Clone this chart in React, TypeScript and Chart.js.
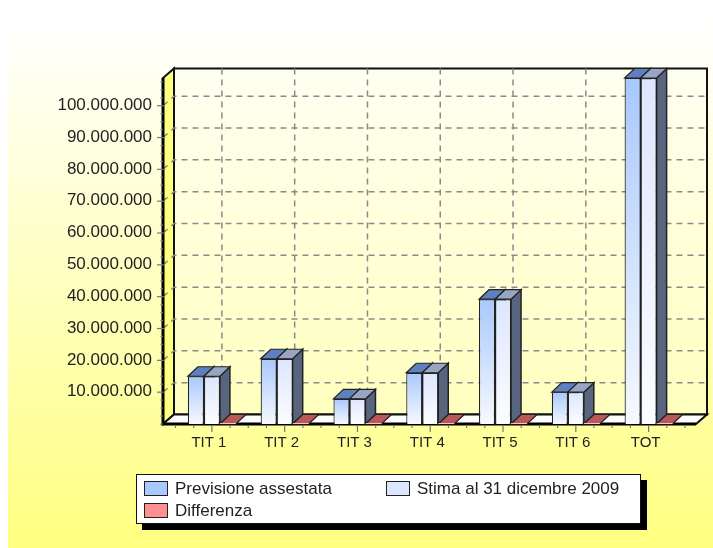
import React, { useEffect, useRef } from "react";
import { Chart, registerables } from "chart.js";

Chart.register(...registerables);

const categories = ["TIT 1", "TIT 2", "TIT 3", "TIT 4", "TIT 5", "TIT 6", "TOT"];
const previsione = [15000000, 20500000, 7900000, 16100000, 39200000, 10000000, 108700000];
const stima = [15000000, 20500000, 7900000, 16100000, 39200000, 10000000, 108700000];
const differenza = [0, 0, 0, 0, 0, 0, 0];
const seriesNames = ["Previsione assestata", "Stima al 31 dicembre 2009", "Differenza"];
const yTickValues = [10000000, 20000000, 30000000, 40000000, 50000000, 60000000, 70000000, 80000000, 90000000, 100000000];
const yTickLabels = ["10.000.000", "20.000.000", "30.000.000", "40.000.000", "50.000.000", "60.000.000", "70.000.000", "80.000.000", "90.000.000", "100.000.000"];
const legendColors = ["#a8c8ff", "#dde6ff", "#ff9090"];
const topColors = ["#5f80c0", "#98a6c4", "#b85858"];
const gradientTops = ["#a8c8ff", "#dde6ff", "#ff9090"];
const gradientBottoms = ["#f6f9ff", "#fcfdff", "#ff9090"];
const yMax = 108700000;
const yStep = 10000000;
const FONT = '"Liberation Sans", Arial, sans-serif';
const DX = 11;
const DY = 9.5;
const BDX = 10;
const BDY = 9.5;

function poly(ctx: CanvasRenderingContext2D, pts: number[][], fill: string | CanvasGradient | null, stroke: string | null, lw = 1) {
  ctx.beginPath();
  pts.forEach((p, i) => (i ? ctx.lineTo(p[0], p[1]) : ctx.moveTo(p[0], p[1])));
  ctx.closePath();
  if (fill) { ctx.fillStyle = fill; ctx.fill(); }
  if (stroke) { ctx.strokeStyle = stroke; ctx.lineWidth = lw; ctx.stroke(); }
}

const scene = {
  id: "scene3d",
  beforeDraw(chart: any) {
    const { ctx, width, height } = chart;
    const bg = ctx.createLinearGradient(0, 12, 0, height);
    bg.addColorStop(0, "#ffffff");
    bg.addColorStop(1, "#ffff80");
    ctx.fillStyle = bg;
    ctx.fillRect(0, 0, width, height);
  },
  beforeDatasetsDraw(chart: any) {
    const { ctx } = chart;
    const { top, bottom } = chart.chartArea;
    const xs = chart.scales.x;
    const ys = chart.scales.y;
    const band = xs.getPixelForValue(1) - xs.getPixelForValue(0);
    const left = xs.getPixelForValue(0) - band / 2 - 12.5;
    const right = xs.getPixelForValue(categories.length - 1) + band / 2 + 11;
    ctx.save();
    const wall = ctx.createLinearGradient(0, top - DY, 0, bottom - DY);
    wall.addColorStop(0, "#fffff2");
    wall.addColorStop(1, "#ffffbe");
    poly(ctx, [[left + DX, top - DY], [right + DX, top - DY], [right + DX, bottom - DY], [left + DX, bottom - DY]], wall, "#111", 2);
    poly(ctx, [[left, top], [left + DX, top - DY], [left + DX, bottom - DY], [left, bottom]], "#ffff80", "#111", 2);
    poly(ctx, [[left, bottom], [left + DX, bottom - DY], [right + DX, bottom - DY], [right, bottom]], "#ffffff", "#111", 2);
    ctx.strokeStyle = "#8a8a8a";
    ctx.lineWidth = 1.5;
    ctx.setLineDash([6, 5]);
    yTickValues.forEach((v) => {
      const y = ys.getPixelForValue(v);
      ctx.beginPath();
      ctx.moveTo(left, y);
      ctx.lineTo(left + DX, y - DY);
      ctx.lineTo(right + DX, y - DY);
      ctx.stroke();
    });
    categories.forEach((_, i) => {
      const x = xs.getPixelForValue(i) + BDX;
      ctx.beginPath();
      ctx.moveTo(x, top - DY);
      ctx.lineTo(x, bottom - DY);
      ctx.stroke();
    });
    ctx.setLineDash([]);
    ctx.strokeStyle = "#000";
    ctx.lineWidth = 3;
    ctx.beginPath();
    ctx.moveTo(left, top);
    ctx.lineTo(left, bottom);
    ctx.lineTo(right, bottom);
    ctx.stroke();
    ctx.strokeStyle = "#777";
    ctx.lineWidth = 1.2;
    for (let v = 0; v <= yMax; v += yStep / 4) {
      const y = ys.getPixelForValue(v);
      const major = v % yStep === 0 && v > 0;
      ctx.beginPath();
      ctx.moveTo(left - (major ? 6 : 2.5), y);
      ctx.lineTo(left + (major ? 2 : 0), y);
      ctx.stroke();
    }
    for (let i = -2; i <= categories.length * 4 - 2; i++) {
      const x = xs.getPixelForValue(0) + (i * band) / 4;
      const major = (i + 4) % 4 === 0 && i >= 0;
      ctx.beginPath();
      ctx.moveTo(x, bottom + 1);
      ctx.lineTo(x, bottom + (major ? 8 : 4));
      ctx.stroke();
    }
    ctx.font = "17px " + FONT;
    ctx.fillStyle = "#222";
    ctx.textAlign = "right";
    ctx.textBaseline = "middle";
    yTickValues.forEach((v, i) => {
      ctx.fillText(yTickLabels[i], left - 11, ys.getPixelForValue(v) - 0.5);
    });
    chart.data.datasets.forEach((_: any, d: number) => {
      chart.getDatasetMeta(d).data.forEach((bar: any) => {
        const l = bar.x - bar.width / 2;
        const r = bar.x + bar.width / 2;
        const y = bar.y;
        const b = bar.base;
        if (d < 2) {
          poly(ctx, [[r, y], [r + BDX, y - BDY], [r + BDX, b - BDY], [r, b]], "#59657f", "#222", 1.5);
        }
        poly(ctx, [[l, y], [l + BDX, y - BDY], [r + BDX, y - BDY], [r, y]], topColors[d], "#222", 1.2);
        if (d === 2) {
          ctx.strokeStyle = "#ffc0c0";
          ctx.lineWidth = 1;
          ctx.beginPath();
          ctx.moveTo(l, b - 0.5);
          ctx.lineTo(r, b - 0.5);
          ctx.stroke();
        }
      });
    });
    ctx.restore();
  },
  afterDraw(chart: any) {
    const { ctx } = chart;
    ctx.save();
    const [x, y, w, h] = [128, 466, 505, 50];
    ctx.fillStyle = "#000";
    ctx.fillRect(x + 6, y + 6, w, h);
    ctx.fillStyle = "#fff";
    ctx.fillRect(x, y, w, h);
    ctx.strokeStyle = "#111";
    ctx.lineWidth = 1;
    ctx.strokeRect(x + 0.5, y + 0.5, w - 1, h - 1);
    const cells = [[136, 473], [378, 473], [136, 495]];
    ctx.font = "17px " + FONT;
    ctx.textBaseline = "middle";
    seriesNames.forEach((name, i) => {
      const [sx, sy] = cells[i];
      ctx.fillStyle = legendColors[i];
      ctx.fillRect(sx, sy, 24, 15);
      ctx.strokeStyle = "#222";
      ctx.strokeRect(sx + 0.5, sy + 0.5, 23, 14);
      ctx.fillStyle = "#222";
      ctx.fillText(name, sx + 31, sy + 8);
    });
    ctx.restore();
  },
};

const seriesData = [previsione, stima, differenza];

export default function App() {
  const ref = useRef<HTMLCanvasElement>(null);
  useEffect(() => {
    const chart = new Chart(ref.current!, {
      type: "bar",
      data: {
        labels: categories,
        datasets: seriesNames.map((label, d) => ({
          label,
          data: seriesData[d],
          borderColor: "#222",
          borderWidth: d < 2 ? 1.2 : 0,
          backgroundColor: (c: any) => {
            const sc = c.chart.scales.y;
            if (!sc || c.raw === undefined) return gradientTops[d];
            const y0 = sc.getPixelForValue(c.raw);
            const y1 = sc.getPixelForValue(0);
            if (!Number.isFinite(y0) || !Number.isFinite(y1)) return gradientTops[d];
            const g = c.chart.ctx.createLinearGradient(0, y0, 0, y1);
            g.addColorStop(0, gradientTops[d]);
            g.addColorStop(1, gradientBottoms[d]);
            return g;
          },
          categoryPercentage: 0.66,
          barPercentage: 1,
        })),
      },
      plugins: [scene],
      options: {
        responsive: false,
        animation: false,
        layout: { padding: { top: 70, right: 28, left: 0, bottom: 0 } },
        plugins: { legend: { display: false }, tooltip: { enabled: false } },
        scales: {
          x: {
            grid: { display: false, drawTicks: false },
            border: { display: false },
            afterFit: (s: any) => { s.height = 124; },
            ticks: { font: { family: FONT, size: 15 }, color: "#222", padding: 10, labelOffset: -3, maxRotation: 0 },
          },
          y: {
            min: 0,
            max: yMax,
            grid: { display: false, drawTicks: false },
            border: { display: false },
            afterFit: (s: any) => { s.width = 167.5; },
            ticks: { stepSize: yStep, autoSkip: false, display: false },
          },
        },
      } as any,
    });
    return () => chart.destroy();
  }, []);
  return <canvas ref={ref} width={705} height={540} style={{ position: "absolute", left: 8, top: 8, display: "block" }} />;
}
